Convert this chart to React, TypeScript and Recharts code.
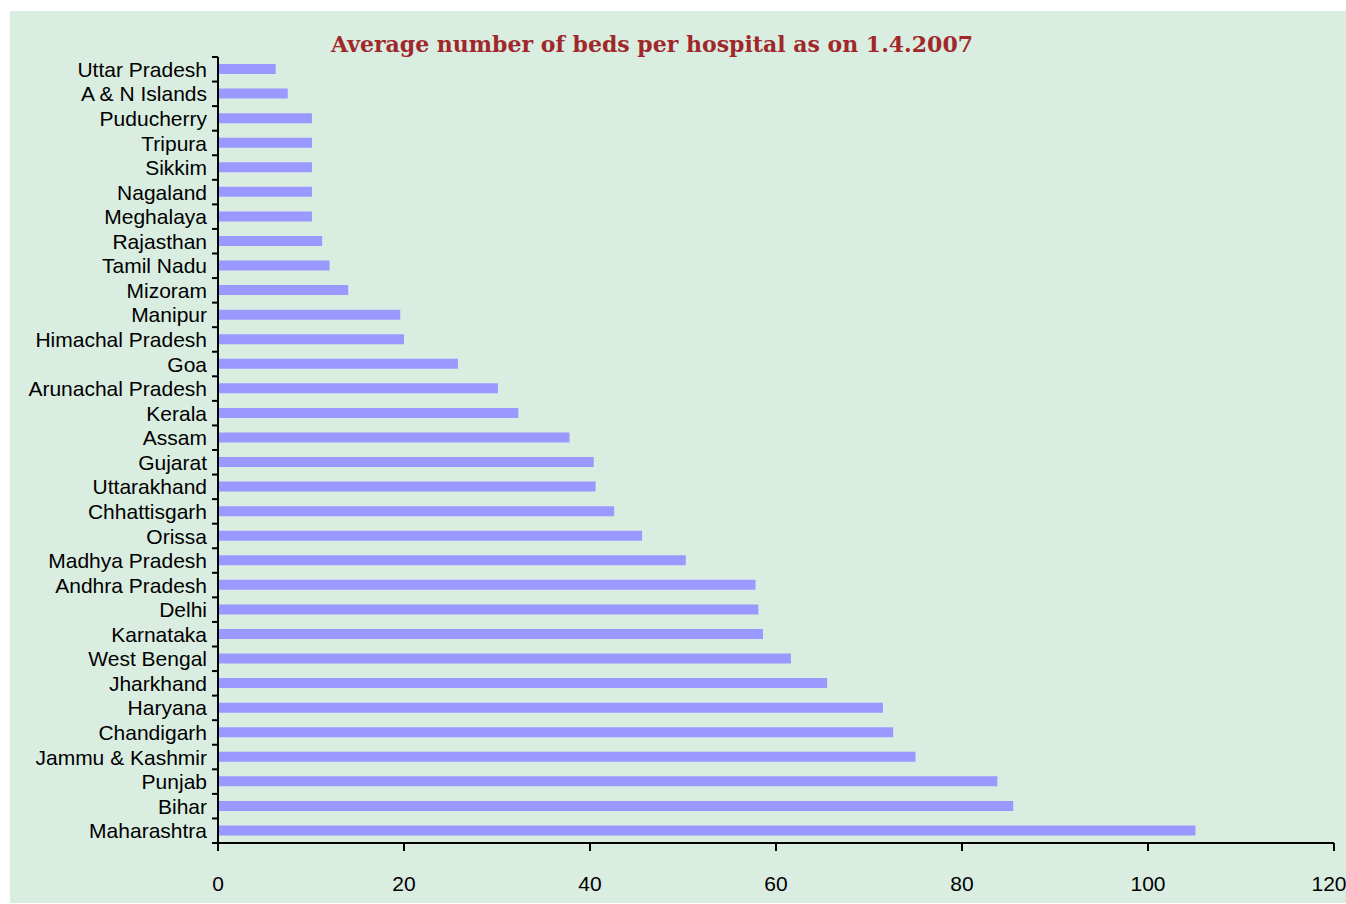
import { Bar, BarChart, XAxis, YAxis } from 'recharts'

const states = [
  'Uttar Pradesh', 'A & N Islands', 'Puducherry', 'Tripura', 'Sikkim', 'Nagaland', 'Meghalaya',
  'Rajasthan', 'Tamil Nadu', 'Mizoram', 'Manipur', 'Himachal Pradesh', 'Goa', 'Arunachal Pradesh',
  'Kerala', 'Assam', 'Gujarat', 'Uttarakhand', 'Chhattisgarh', 'Orissa', 'Madhya Pradesh',
  'Andhra Pradesh', 'Delhi', 'Karnataka', 'West Bengal', 'Jharkhand', 'Haryana', 'Chandigarh',
  'Jammu & Kashmir', 'Punjab', 'Bihar', 'Maharashtra',
]

const bedsPerHospital = [
  6.2, 7.5, 10.1, 10.1, 10.1, 10.1, 10.1, 11.2, 12.0, 14.0, 19.6, 20.0, 25.8, 30.1, 32.3, 37.8,
  40.4, 40.6, 42.6, 45.6, 50.3, 57.8, 58.1, 58.6, 61.6, 65.5, 71.5, 72.6, 75.0, 83.8, 85.5, 105.1,
]

const xTicks = [0, 20, 40, 60, 80, 100, 120]

const data = states.map((state, i) => ({ state, beds: bedsPerHospital[i] }))

const FONT = '"Liberation Sans", Arial, sans-serif'
const TICK_SIZE = 6
const TICK_GAP = 5

function StateTick(props: any) {
  const { x, y, payload, index } = props
  const half = payload?.offset ?? 12.28
  const lx1 = x + TICK_GAP
  const lx2 = x + TICK_GAP + TICK_SIZE
  return (
    <g>
      <line x1={lx1} x2={lx2} y1={y - half} y2={y - half} stroke="#000" strokeWidth={2} />
      {index === states.length - 1 && (
        <line x1={lx1} x2={lx2} y1={y + half} y2={y + half} stroke="#000" strokeWidth={2} />
      )}
      <text x={x} y={y} dy="0.36em" textAnchor="end" fill="#000" fontSize={21} fontFamily={FONT}>
        {payload.value}
      </text>
    </g>
  )
}

// last label is nudged left so it stays inside the panel, like the original
function ValueTick(props: any) {
  const { x, y, payload, index } = props
  const last = index === xTicks.length - 1
  return (
    <text x={x} y={y} dy="0.71em" dx={last ? -5 : 0} textAnchor="middle" fill="#000" fontSize={21} fontFamily={FONT}>
      {payload.value}
    </text>
  )
}

export default function App() {
  return (
    <div
      style={{
        position: 'absolute',
        left: 10,
        top: 11,
        width: 1336,
        height: 892,
        background: '#daede1',
      }}
    >
      <div
        style={{
          position: 'absolute',
          left: 0,
          top: 18,
          width: 1284,
          textAlign: 'center',
          fontFamily: '"DejaVu Serif", serif',
          fontWeight: 'bold',
          fontSize: 22,
          color: '#a0282a',
          lineHeight: '30px',
        }}
      >
        Average number of beds per hospital as on 1.4.2007
      </div>
      <BarChart
        width={1336}
        height={892}
        data={data}
        layout="vertical"
        margin={{ top: 46, right: 12, bottom: 0, left: 0 }}
        barCategoryGap={0}
      >
        <XAxis
          type="number"
          domain={[0, 120]}
          ticks={xTicks}
          height={60}
          axisLine={{ stroke: '#000', strokeWidth: 2 }}
          tickLine={{ stroke: '#000', strokeWidth: 2 }}
          tickSize={8}
          tickMargin={25}
          tick={(p: any) => <ValueTick {...p} />}
        />
        <YAxis
          type="category"
          dataKey="state"
          width={208}
          interval={0}
          axisLine={{ stroke: '#000', strokeWidth: 2 }}
          tickLine={false}
          tickSize={TICK_SIZE}
          tickMargin={TICK_GAP}
          tick={(p: any) => <StateTick {...p} />}
        />
        <Bar dataKey="beds" fill="#9999ff" barSize={10} isAnimationActive={false} />
      </BarChart>
    </div>
  )
}
